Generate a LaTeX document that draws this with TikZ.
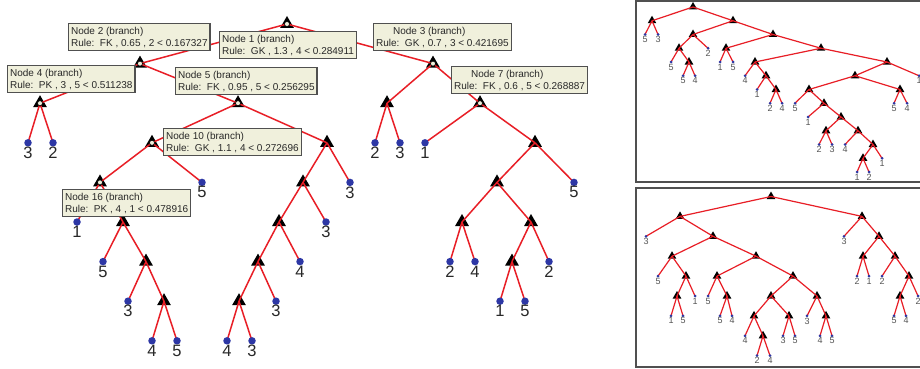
\documentclass[tikz,border=0pt]{standalone}
\usepackage{fontspec}
\setmainfont{Liberation Sans}
\usetikzlibrary{shapes.geometric}
\definecolor{lred}{RGB}{232,30,38}
\definecolor{dblue}{RGB}{45,55,165}
\definecolor{boxbg}{RGB}{240,240,220}
\definecolor{boxline}{RGB}{80,80,80}
\definecolor{txt}{RGB}{40,40,40}
\definecolor{stxt}{RGB}{85,85,85}
\begin{document}
\begin{tikzpicture}[x=1pt,y=-1pt,
  tri/.style={regular polygon, regular polygon sides=3, fill=black, inner sep=0pt, minimum size=16pt},
  stri/.style={regular polygon, regular polygon sides=3, fill=black, inner sep=0pt, minimum size=10pt},
  edge/.style={draw=lred, line width=1.5pt},
  sedge/.style={draw=lred, line width=1.2pt},
  dot/.style={circle, fill=dblue, inner sep=0pt, minimum size=7.5pt},
  sdot/.style={circle, fill=dblue, inner sep=0pt, minimum size=3pt},
  lab/.style={inner sep=0pt, text=txt, font=\fontsize{16.5}{18}\selectfont},
  slab/.style={inner sep=0pt, text=stxt, font=\fontsize{9}{10}\selectfont},
  marker/.style={circle, fill=boxbg, draw=black, line width=0.6pt, inner sep=0pt, minimum size=5pt},
  infobox/.style={draw=boxline, line width=1.2pt, fill=boxbg, align=left, text=txt,
    font=\fontsize{10}{12}\selectfont, inner xsep=2.5pt, minimum height=27pt, anchor=north west},
  panel/.style={draw=boxline, line width=1.3pt}
]
\useasboundingbox (0,0) rectangle (920,369);
\fill[white] (0,0) rectangle (920,369);
\clip (0,0) rectangle (920,369);
\draw[panel] (636,1) rectangle (935,182);
\draw[panel] (636,188) rectangle (935,367);

% ---------------- main tree ----------------
\foreach \n/\x/\d in {mR/287/0, m2/140/1, m3/433/1, m4/40/2, m5/238/2, m10/152/3, m16/100/4,
  mA/123/5, mB/146/6, mC/164/7, mD/327/3, mE/303/4, mF/279/5, mH/258/6, mG/239/7,
  mI/387/2, m7/480/2, mJ/535/3, mK/497/4, mM/462/5, mN/531/5, mO/512/6}
  \node[tri] (\n) at (\x,{24+39.6*\d}) {};
\foreach \n/\x/\d in {a1/28/3, a2/53/3, a3/77/5, a4/103/6, a5/128/7, a6/152/8, a7/177/8, a8/202/4,
  a9/300/6, a10/276/7, a11/227/8, a12/252/8, a13/326/5, a14/350/4, a15/375/3, a16/400/3,
  a17/425/3, a18/450/6, a19/475/6, a20/500/7, a21/525/7, a22/549/6, a23/574/4}
  \coordinate (\n) at (\x,{24+39.6*\d});
\foreach \a/\b in {mR/m2, mR/m3, m2/m4, m2/m5, m4/a1, m4/a2, m5/m10, m5/mD, m10/m16, m10/a8,
  m16/a3, m16/mA, mA/a4, mA/mB, mB/a5, mB/mC, mC/a6, mC/a7, mD/mE, mD/a14, mE/mF, mE/a13,
  mF/mH, mF/a9, mH/mG, mH/a10, mG/a11, mG/a12, m3/mI, m3/m7, mI/a15, mI/a16, m7/a17, m7/mJ,
  mJ/mK, mJ/a23, mK/mM, mK/mN, mM/a18, mM/a19, mN/mO, mN/a22, mO/a20, mO/a21}
  \draw[edge] (\a.center) -- (\b.center);
\foreach \n/\t in {a1/3, a2/2, a3/1, a4/5, a5/3, a6/4, a7/5, a8/5, a9/4, a10/3, a11/4, a12/3,
  a13/3, a14/3, a15/2, a16/3, a17/1, a18/2, a19/4, a20/1, a21/5, a22/2, a23/5}
  \node[dot, label={[lab]below:\t}] (\n-d) at (\n) {};
\foreach \n in {mR, m2, m3, m4, m5, m7, m10, m16}
  \node[marker] (\n-m) at (\n.center) {};

% info boxes
\node[infobox] (box2) at (68,23) {Node 2 (branch)\\Rule:\ \ FK , 0.65 , 2 < 0.167327};
\node[infobox] (box1) at (219,31) {Node 1 (branch)\\Rule:\ \ GK , 1.3 , 4 < 0.284911};
\node[infobox] (box3) at (373,23) {\hspace*{17pt}Node 3 (branch)\\Rule:\ \ GK , 0.7 , 3 < 0.421695};
\node[infobox] (box4) at (7,65) {Node 4 (branch)\\Rule:\ \ PK , 3 , 5 < 0.511238};
\node[infobox] (box5) at (175,67) {Node 5 (branch)\\Rule:\ \ FK , 0.95 , 5 < 0.256295};
\node[infobox] (box7) at (451,66) {\hspace*{17pt}Node 7 (branch)\\Rule:\ \ FK , 0.6 , 5 < 0.268887};
\node[infobox] (box10) at (163,128) {Node 10 (branch)\\Rule:\ \ GK , 1.1 , 4 < 0.272696};
\node[infobox] (box16) at (62,189) {Node 16 (branch)\\Rule:\ \ PK , 4 , 1 < 0.478916};

% ---------------- panel 1 ----------------
\foreach \n/\x/\d in {p0/693/0, p1/652/1, p2/733/1, p3/693/2, p4/679/3, p5/689/4, p6/773/2,
  p7/726/3, p8/821/3, p9/755/4, p10/766/5, p11/776/6, p12/887/4, p13/855/5, p14/809/6,
  p15/824/7, p16/841/8, p17/826/9, p18/858/9, p19/873/10, p20/863/11, p21/900/6}
  \node[stri] (\n) at (\x,{7+13.75*\d}) {};
\foreach \n/\x/\d in {b1/645/2, b2/658/2, b3/671/4, b4/683/5, b5/695/5, b6/708/3, b7/720/4,
  b8/733/4, b9/745/5, b10/757/6, b11/770/7, b12/782/7, b13/795/7, b14/808/8, b15/819/10,
  b16/832/10, b17/845/10, b18/857/12, b19/869/12, b20/882/11, b21/894/7, b22/907/7, b23/919/5}
  \coordinate (\n) at (\x,{7+13.75*\d});
\foreach \a/\b in {p0/p1, p0/p2, p1/b1, p1/b2, p2/p3, p2/p6, p3/p4, p3/b6, p4/b3, p4/p5,
  p5/b4, p5/b5, p6/p7, p6/p8, p7/b7, p7/b8, p8/p9, p8/p12, p9/b9, p9/p10, p10/b10, p10/p11,
  p11/b11, p11/b12, p12/p13, p12/b23, p13/p14, p13/p21, p14/b13, p14/p15, p15/b14, p15/p16,
  p16/p17, p16/p18, p17/b15, p17/b16, p18/b17, p18/p19, p19/p20, p19/b20, p20/b18, p20/b19,
  p21/b21, p21/b22}
  \draw[sedge] (\a.center) -- (\b.center);
\foreach \n/\t in {b1/5, b2/3, b3/5, b4/5, b5/4, b6/2, b7/1, b8/5, b9/4, b10/1, b11/2, b12/4,
  b13/5, b14/1, b15/2, b16/3, b17/4, b18/1, b19/2, b20/1, b21/5, b22/4, b23/1}
  \node[sdot, label={[slab]below:\t}] (\n-d) at (\n) {};

% ---------------- panel 2 ----------------
\foreach \n/\x/\d in {q0/771/0, q1/680/1, q2/713/2, q3/672/3, q4/686/4, q5/677/5, q6/756/3,
  q7/717/4, q8/727/5, q9/793/4, q10/771/5, q11/754/6, q12/763/7, q13/789/6, q14/817/5,
  q15/826/6, q16/862/1, q17/879/2, q18/863/3, q19/895/3, q20/909/4, q21/900/5}
  \node[stri] (\n) at (\x,{196.5+19.9*\d}) {};
\foreach \n/\x/\d in {c1/646/2, c2/658/4, c3/671/6, c4/683/6, c5/695/5, c6/708/5, c7/720/6,
  c8/732/6, c9/745/7, c10/757/8, c11/770/8, c12/783/7, c13/795/7, c14/807/6, c15/820/7,
  c16/832/7, c17/844/2, c18/857/4, c19/869/4, c20/882/4, c21/894/6, c22/906/6, c23/918/5}
  \coordinate (\n) at (\x,{196.5+19.9*\d});
\foreach \a/\b in {q0/q1, q0/q16, q1/c1, q1/q2, q2/q3, q2/q6, q3/c2, q3/q4, q4/q5, q4/c5,
  q5/c3, q5/c4, q6/q7, q6/q9, q7/c6, q7/q8, q8/c7, q8/c8, q9/q10, q9/q14, q10/q11, q10/q13,
  q11/c9, q11/q12, q12/c10, q12/c11, q13/c12, q13/c13, q14/c14, q14/q15, q15/c15, q15/c16,
  q16/c17, q16/q17, q17/q18, q17/q19, q18/c18, q18/c19, q19/c20, q19/q20, q20/q21, q20/c23,
  q21/c21, q21/c22}
  \draw[sedge] (\a.center) -- (\b.center);
\foreach \n/\t in {c1/3, c2/5, c3/1, c4/5, c5/1, c6/5, c7/5, c8/4, c9/4, c10/2, c11/4, c12/3,
  c13/5, c14/3, c15/4, c16/5, c17/3, c18/2, c19/1, c20/2, c21/5, c22/4, c23/2}
  \node[sdot, label={[slab]below:\t}] (\n-d) at (\n) {};
\end{tikzpicture}
\end{document}
